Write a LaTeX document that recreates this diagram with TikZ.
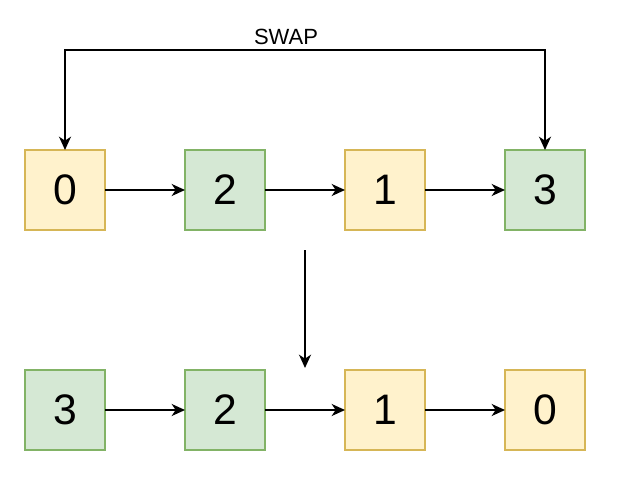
\documentclass[tikz,border=0pt]{standalone}
\usepackage{fontspec}
\setmainfont{Liberation Sans}
\usetikzlibrary{arrows.meta,positioning}

\definecolor{yfill}{HTML}{FFF2CC}
\definecolor{ydraw}{HTML}{D6B656}
\definecolor{gfill}{HTML}{D5E8D4}
\definecolor{gdraw}{HTML}{82B366}

\begin{document}
\begin{tikzpicture}
[x=0.75pt,y=-0.75pt,>={Stealth[length=10pt,width=9pt,inset=3pt]},line width=1.5pt,
node distance=60pt and 60pt,
cell/.style={minimum size=60pt,inner sep=0pt,outer sep=0pt,line width=1pt,font=\fontsize{32}{32}\selectfont},
yel/.style={cell,fill=yfill,draw=ydraw},
grn/.style={cell,fill=gfill,draw=gdraw}]
\useasboundingbox (0,0) rectangle (617,493);
\node[yel] (t0) at (65,190) {0};
\node[grn] (t2) [right=of t0] {2};
\node[yel] (t1) [right=of t2] {1};
\node[grn] (t3) [right=of t1] {3};

\node[grn] (b3) at (65,410) {3};
\node[grn] (b2) [right=of b3] {2};
\node[yel] (b1) [right=of b2] {1};
\node[yel] (b0) [right=of b1] {0};

\coordinate (swap) at (286,50);
\coordinate (mtop) at (305,250);
\coordinate (mbot) at (305,368);

\draw[<->] (t0.north) |- (swap) -| (t3.north);
\node[above=0pt of swap,font=\fontsize{16.5}{16.5}\selectfont] (swaplbl) {SWAP};

\path[->]
(t0) edge (t2)
(t2) edge (t1)
(t1) edge (t3)
(b3) edge (b2)
(b2) edge (b1)
(b1) edge (b0)
(mtop) edge (mbot);
\end{tikzpicture}
\end{document}
